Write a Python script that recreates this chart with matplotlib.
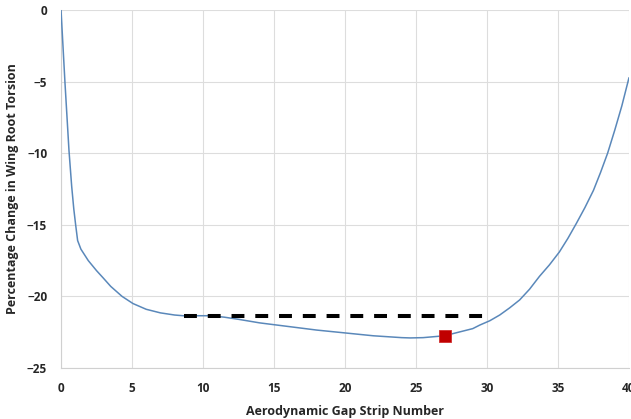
import matplotlib
matplotlib.use("Agg")
import matplotlib.pyplot as plt

# Curve
strip = [0, 0.28, 0.56, 0.75, 0.9, 1.03, 1.17, 1.4, 1.92, 2.5, 2.96, 3.5, 4.3, 5.07,
         6, 7, 8, 8.6, 9.5, 10.5, 11.5, 12.5, 14, 16, 18, 20, 22, 24, 24.6, 25.5,
         27, 28, 29, 29.5, 30.2, 30.9, 31.6, 32.3, 33, 33.7, 34.4, 35.1, 35.7, 36.3,
         36.9, 37.5, 38, 38.5, 39, 39.5, 40]
torsion = [0, -5.1, -9.8, -12.3, -13.9, -15.0, -16.1, -16.7, -17.5, -18.2, -18.7, -19.3,
           -20.0, -20.5, -20.9, -21.15, -21.3, -21.35, -21.35, -21.35, -21.45, -21.6,
           -21.85, -22.1, -22.35, -22.55, -22.75, -22.88, -22.9, -22.88, -22.75, -22.5,
           -22.25, -22.0, -21.7, -21.3, -20.8, -20.25, -19.5, -18.6, -17.8, -16.9, -15.95,
           -14.9, -13.8, -12.6, -11.35, -10.0, -8.4, -6.7, -4.75]

# Reference level and selected strip
level_x = [8.66, 30.1]
level_y = [-21.35, -21.35]
sel_x = [27.04]
sel_y = [-22.75]

xticks = [0, 5, 10, 15, 20, 25, 30, 35, 40]
yticks = [0, -5, -10, -15, -20, -25]

plt.rcParams['font.family'] = ['Open Sans', 'DejaVu Sans']

fig = plt.figure(figsize=(6.31, 4.19), dpi=100)
ax = fig.add_axes([0.0967, 0.1217, 0.9, 0.8545])

ax.plot(strip, torsion, color='#5A88BA', lw=1.1, zorder=3)
ax.plot(level_x, level_y, color='black', lw=2.9, linestyle=(0, (3.2, 2.7)), zorder=4)
ax.plot(sel_x, sel_y, marker='s', ms=8.6, color='#C00000', mec='#D03030', mew=0.6,
        linestyle='none', zorder=5)

ax.set_xlim(0, 40)
ax.set_ylim(-25, 0)
ax.set_xticks(xticks)
ax.set_yticks(yticks)
ax.tick_params(length=0, labelsize=8.5)
ax.tick_params(axis='x', pad=10)
ax.tick_params(axis='y', pad=10)
for lab in ax.get_xticklabels() + ax.get_yticklabels():
    lab.set_fontweight('bold')
    lab.set_color('#262626')

ax.grid(True, color='#DDDDDD', lw=0.8)
ax.set_axisbelow(True)
for side in ['top', 'right']:
    ax.spines[side].set_visible(False)
for side in ['left', 'bottom']:
    ax.spines[side].set_color('#D0D0D0')
    ax.spines[side].set_linewidth(0.8)

ax.set_xlabel('Aerodynamic Gap Strip Number', fontsize=9, fontweight='bold',
              color='#262626', labelpad=7)
ax.set_ylabel('Percentage Change in Wing Root Torsion', fontsize=9, fontweight='bold',
              color='#262626', labelpad=6)

fig.savefig('out.png', dpi=100)
